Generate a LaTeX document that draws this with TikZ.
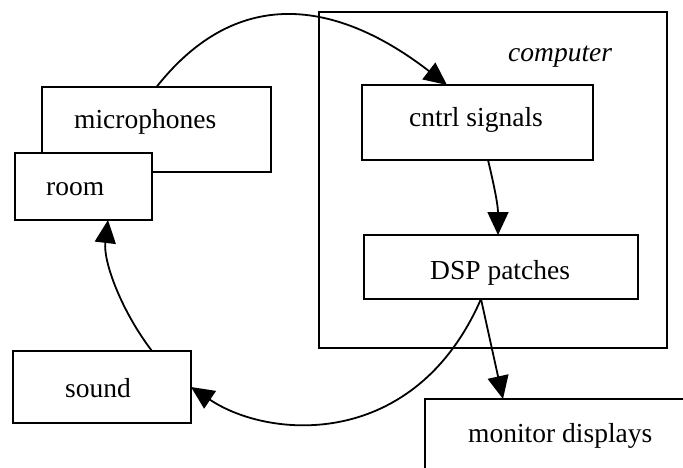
\documentclass[tikz,border=0pt]{standalone}
\usepackage{fontspec}
\setmainfont{Liberation Serif}
\usetikzlibrary{arrows.meta}
\begin{document}
\begin{tikzpicture}[x=1pt,y=-1pt,
  box/.style={draw,line width=1.8pt,fill=white,inner sep=0pt,outer sep=0pt,rectangle},
  lbl/.style={inner sep=0pt,anchor=base west,font=\fontsize{27.5}{33}\selectfont},
  arr/.style={line width=1.8pt,-{Triangle[length=23pt,width=21pt]}}]
\useasboundingbox (0,0) rectangle (683,468);
\clip (0,0) rectangle (683,468);
\fill[white] (0,0) rectangle (683,468);
% boxes
\node[box,minimum width=229pt,minimum height=85pt] (mic) at (156.5,129.5) {};
\node[box,minimum width=137pt,minimum height=67pt] (room) at (83.5,186.5) {};
\node[box,line width=2.4pt,fill=none,minimum width=348pt,minimum height=336pt] (comp) at (493,180) {};
\node[box,minimum width=231pt,minimum height=75pt] (cntrl) at (477.5,122.5) {};
\node[box,minimum width=274pt,minimum height=64pt] (dsp) at (501,267) {};
\node[box,minimum width=178pt,minimum height=72pt] (sound) at (102,387) {};
\node[box,minimum width=275pt,minimum height=101pt] (mon) at (562.5,449.5) {};
% labels
\node[lbl] (micT) at (74,129) {microphones};
\node[lbl] (roomT) at (46,195) {room};
\node[lbl] (compT) at (508,62) {\itshape computer};
\node[lbl] (cntrlT) at (409,127) {cntrl signals};
\node[lbl] (dspT) at (430,279) {DSP patches};
\node[lbl] (soundT) at (65,397) {sound};
\node[lbl] (monT) at (468,442) {monitor displays};
% connectors
\draw[arr] (mic.north) .. controls (245,-25) and (350,10) .. ([xshift=85pt]cntrl.north west);
\draw[arr] ([xshift=10.5pt]cntrl.south) .. controls (494,185) and (498,205) .. ([xshift=-3pt]dsp.north);
\draw[arr] ([xshift=-20pt]dsp.south) .. controls (415,450) and (270,440) .. (sound.east);
\draw[arr] ([xshift=-20pt]dsp.south) -- ([xshift=78pt]mon.north west);
\draw[arr] ([xshift=50pt]sound.north) .. controls (122,312) and (103,262) .. ([xshift=24.5pt]room.south);
\end{tikzpicture}
\end{document}
